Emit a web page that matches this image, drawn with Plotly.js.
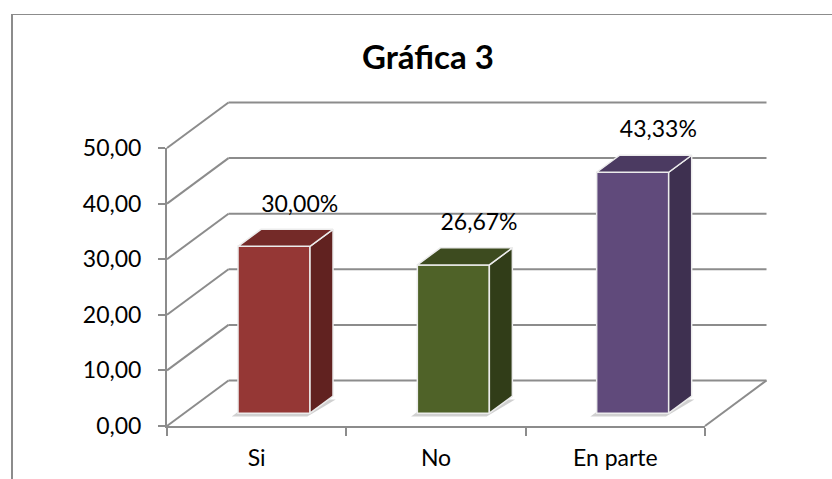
<!DOCTYPE html>
<html>
<head>
<meta charset="utf-8">
<script src="https://cdn.plot.ly/plotly-3.0.1.min.js"></script>
<style>
  html, body { margin: 0; padding: 0; background: #fff; }
  #wrap { position: relative; width: 832px; height: 479px; overflow: hidden; }
  #chart { position: absolute; left: 0; top: 0; width: 832px; height: 479px; }
  #frame { position: absolute; left: 11px; top: 14px; right: -10px; bottom: -10px;
           border-left: 2px solid #8c8c8c; border-top: 1px solid #8c8c8c; pointer-events: none; }
</style>
</head>
<body>
<div id="wrap"><div id="chart"></div><div id="frame"></div></div>
<script>
// ---- data ----
const categories = ['Si', 'No', 'En parte'];
const values = [30.00, 26.67, 43.33];
const yTicks = [0, 10, 20, 30, 40, 50];
const chartTitle = 'Gráfica 3';

// ---- styles ----
const frontColors = ['#953735', '#4f6228', '#604a7b'];
const topColors   = ['#742a28', '#3d4b1f', '#4b3a61'];
const sideColors  = ['#612220', '#313d18', '#3e3050'];
const gridColor = '#8c8c8c';
const edgeColor = '#ececec';
const FONT = 'Lato, "Open Sans", sans-serif';

// ---- geometry (pixel frame of the front plane) ----
const W = 832, H = 479;
const FX0 = 167, FX1 = 705, FY0 = 426, FY1 = 148;
const nCat = categories.length;
const yMax = yTicks[yTicks.length - 1];
const kx = (FX1 - FX0) / nCat, ky = (FY0 - FY1) / yMax;
const DX = 61.5 / kx, DY = 45.5 / ky;          // depth of the 3D box in data units
const ux = px => (px - FX0) / kx - 0.5;
const uy = py => (FY0 - py) / ky;
const M = { x0: 150, x1: 795, y0: 445, y1: 85 };  // main (frame) subplot pixels

const FRONT_F = 0.282, DEPTH_F = 0.374, BAR_W = 72 / kx;
const bx = FRONT_F * DX, bz = FRONT_F * DY, ddx = DEPTH_F * DX, ddy = DEPTH_F * DY;

const traces = [];
// back wall gridlines + left wall diagonals
const gx = [], gy = [], lx = [], ly = [];
yTicks.forEach(v => {
  gx.push(-0.5 + DX, nCat - 0.5 + DX, null); gy.push(v + DY, v + DY, null);
  lx.push(-0.5, -0.5 + DX, null); ly.push(v, v + DY, null);
});
lx.push(nCat - 0.5, nCat - 0.5 + DX, null); ly.push(0, DY, null);
traces.push({ type: 'scatter', mode: 'lines', x: gx, y: gy, line: { color: gridColor, width: 2 }, hoverinfo: 'skip' });
traces.push({ type: 'scatter', mode: 'lines', x: lx, y: ly, line: { color: gridColor, width: 2 }, hoverinfo: 'skip' });

// soft shadows under bars (frame layer, below bars)
values.forEach((v, i) => {
  const xl = i + bx - BAR_W / 2 - 0.035, xr = xl + BAR_W + 0.02, z = bz - 0.6;
  traces.push({ type: 'scatter', mode: 'lines', fill: 'toself', hoverinfo: 'skip',
    x: [xl, xr, xr + ddx + 0.03, xl + ddx, xl], y: [z, z, z + ddy, z + ddy, z],
    line: { width: 0, color: 'rgba(0,0,0,0)' }, fillcolor: 'rgba(120,120,120,0.35)' });
});

// bar fronts
traces.push({ type: 'bar', xaxis: 'x3', yaxis: 'y3',
  x: values.map((v, i) => i + bx), y: values, base: bz, width: BAR_W,
  marker: { color: frontColors, line: { color: edgeColor, width: 1.5 } }, hoverinfo: 'skip' });
// tops and sides
values.forEach((v, i) => {
  const xl = i + bx - BAR_W / 2, xr = xl + BAR_W, t = v + bz;
  traces.push({ type: 'scatter', mode: 'lines', fill: 'toself', xaxis: 'x3', yaxis: 'y3', hoverinfo: 'skip',
    x: [xr, xr + ddx, xr + ddx, xr, xr], y: [bz, bz + ddy, t + ddy, t, bz],
    fillcolor: sideColors[i], line: { color: edgeColor, width: 1.5 } });
  traces.push({ type: 'scatter', mode: 'lines', fill: 'toself', xaxis: 'x3', yaxis: 'y3', hoverinfo: 'skip',
    x: [xl, xr, xr + ddx, xl + ddx, xl], y: [t, t, t + ddy, t + ddy, t],
    fillcolor: topColors[i], line: { color: edgeColor, width: 1.5 } });
});
// data labels
traces.push({ type: 'scatter', mode: 'text', xaxis: 'x3', yaxis: 'y3', hoverinfo: 'skip',
  x: values.map((v, i) => i + 0.24), y: values.map(v => v + bz + 7.3),
  text: values.map(v => v.toFixed(2).replace('.', ',') + '%'),
  textposition: 'middle center', textfont: { family: FONT, size: 23, color: '#000' }, cliponaxis: false });

// front axes subplot (dummy trace to create the category axis)
traces.push({ type: 'scatter', mode: 'markers', xaxis: 'x2', yaxis: 'y2', x: categories,
  y: categories.map(() => null), hoverinfo: 'skip', marker: { opacity: 0 } });

const mainX = { domain: [M.x0 / W, M.x1 / W], range: [ux(M.x0), ux(M.x1)], visible: false, fixedrange: true };
const mainY = { domain: [1 - M.y0 / H, 1 - M.y1 / H], range: [uy(M.y0), uy(M.y1)], visible: false, fixedrange: true };

const layout = {
  width: W, height: H,
  margin: { l: 0, r: 0, t: 0, b: 0 },
  paper_bgcolor: '#ffffff', plot_bgcolor: 'rgba(0,0,0,0)',
  showlegend: false, separators: ',.',
  font: { family: FONT, color: '#000' },
  title: { text: chartTitle, font: { family: FONT, size: 33, weight: 700, color: '#000' },
           x: 428 / W, xanchor: 'center', xref: 'paper', y: 1 - 57 / H, yanchor: 'middle', yref: 'paper' },
  xaxis: mainX,
  yaxis: mainY,
  xaxis3: Object.assign({}, mainX, { overlaying: 'x', anchor: 'y3' }),
  yaxis3: Object.assign({}, mainY, { overlaying: 'y', anchor: 'x3' }),
  xaxis2: { domain: [FX0 / W, FX1 / W], anchor: 'y2', type: 'category', categoryorder: 'array',
    categoryarray: categories, range: [-0.5, nCat - 0.5], tickson: 'boundaries',
    ticks: 'outside', ticklen: 8, tickwidth: 2, tickcolor: gridColor,
    showline: true, linecolor: gridColor, linewidth: 2, showgrid: false, zeroline: false,
    tickfont: { family: FONT, size: 23, color: '#000' }, ticklabelstandoff: 10, fixedrange: true },
  yaxis2: { domain: [1 - FY0 / H, 1 - FY1 / H], anchor: 'x2', range: [0, yMax],
    tickvals: yTicks, tickformat: '.2f',
    ticks: 'outside', ticklen: 7, tickwidth: 2, tickcolor: gridColor,
    showline: true, linecolor: gridColor, linewidth: 2, showgrid: false, zeroline: false,
    tickfont: { family: FONT, size: 23, color: '#000' }, ticklabelstandoff: 12, fixedrange: true }
};

Plotly.newPlot('chart', traces, layout, { displayModeBar: false, staticPlot: true });
</script>
</body>
</html>
